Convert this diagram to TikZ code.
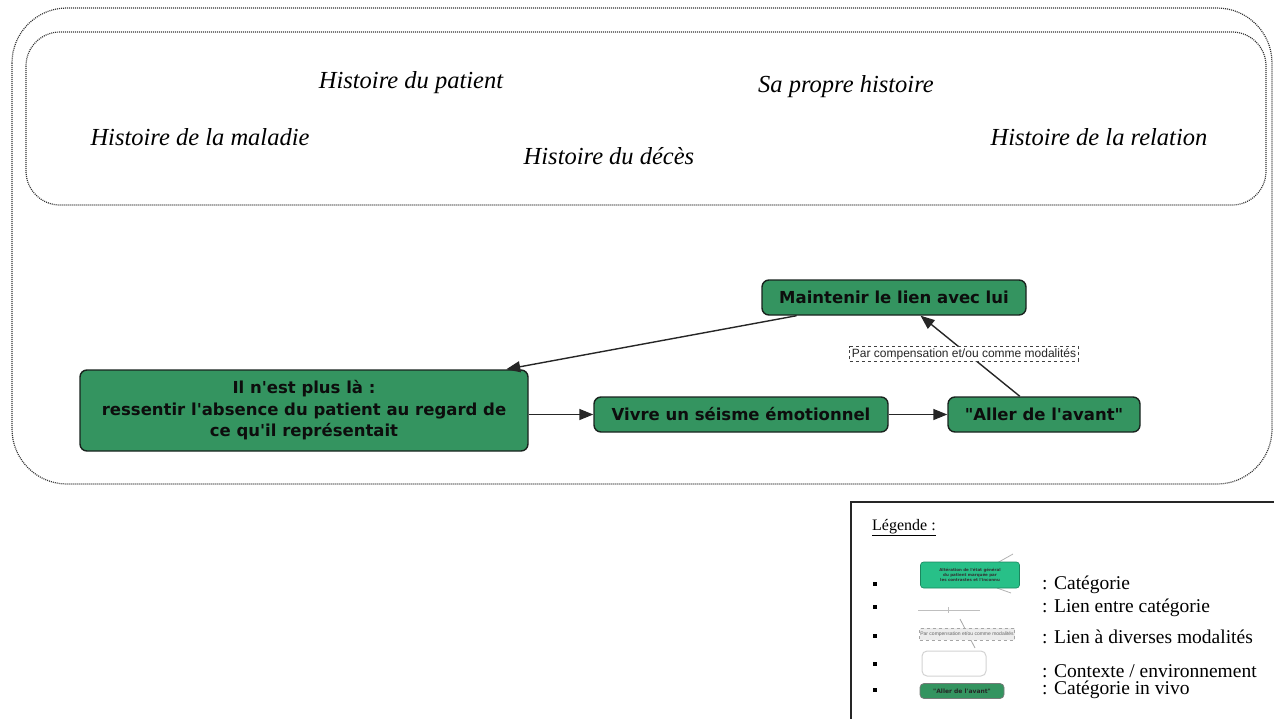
\documentclass[tikz,border=0pt]{standalone}
\usepackage{fontspec}
\setmainfont{Liberation Serif}
\newfontfamily\boldsans[Ligatures=TeXOff]{DejaVu Sans}
\newfontfamily\labsans[Ligatures=TeXOff]{Liberation Sans}
\usetikzlibrary{arrows.meta,calc}
\definecolor{catgreen}{RGB}{52,148,96}
\definecolor{mintgreen}{RGB}{40,192,136}
\definecolor{edgedark}{RGB}{25,35,30}
\begin{document}
\begin{tikzpicture}[x=1pt,y=-1pt,
  ctx/.style={draw=black!80, line width=1.2pt, dash pattern=on 1pt off 1pt},
  hist/.style={font=\fontsize{24.5}{28}\selectfont\itshape, inner sep=0pt},
  cat/.style={draw=edgedark, line width=1.4pt, fill=catgreen, rounded corners=7pt,
    font=\boldsans\bfseries\fontsize{16.5}{21.5}\selectfont, text=black!95,
    align=center, inner sep=0pt},
  conn/.style={draw=black!85, line width=1.4pt, -{Triangle[length=14pt,width=11pt]}},
  modal/.style={draw=black!75, dashed, line width=1pt, fill=white,
    font=\labsans\fontsize{12}{14}\selectfont, text=black!85, inner xsep=2pt, inner ysep=1.5pt},
  legtext/.style={font=\fontsize{19.5}{22}\selectfont, anchor=west, inner sep=0pt},
  bulletsq/.style={fill=black, minimum size=4pt, inner sep=0pt}
]
\useasboundingbox (0,0) rectangle (1274,718);

% context boxes
\draw[ctx, rounded corners=55pt] (12,8) rectangle (1272,484);
\draw[ctx, rounded corners=34pt] (26,32) rectangle (1266,205);

% history labels
\node[hist] (hp) at (411,83) {Histoire du patient};
\node[hist] (sp) at (846,87) {Sa propre histoire};
\node[hist] (hm) at (200,137) {Histoire de la maladie};
\node[hist] (hd) at (609,156) {Histoire du décès};
\node[hist] (hr) at (1099,137) {Histoire de la relation};

% categories
\node[cat, minimum width=448pt, minimum height=81pt] (b1) at (304,410.5)
  {Il n'est plus là :\\ressentir l'absence du patient au regard de\\ce qu'il représentait};
\node[cat, minimum width=294pt, minimum height=35pt] (b2) at (741,414.5) {Vivre un séisme émotionnel};
\node[cat, minimum width=192pt, minimum height=35pt] (b3) at (1044,414.5) {"Aller de l'avant"};
\node[cat, minimum width=264pt, minimum height=35pt] (b4) at (894,297.5) {Maintenir le lien avec lui};

% connectors
\draw[conn] (b1.east |- b2.west) -- (b2.west);
\draw[conn] (b2.east) -- (b3.west);
\coordinate (b4sw) at ($(b4.south west)!0.133!(b4.south east)$);
\coordinate (b1ne) at ($(b1.north west)!0.95!(b1.north east)$);
\draw[conn] (b4sw) -- (b1ne);
\coordinate (b3n) at ($(b3.north west)!0.375!(b3.north east)$);
\coordinate (b4s) at ($(b4.south west)!0.6!(b4.south east)$);
\draw[conn] (b3n) -- (b4s);
\node[modal] (lab) at (964,354) {Par compensation et/ou comme modalités};

% legend
\draw[line width=1.5pt, draw=black!85] (851,740) -- (851,502) -- (1290,502);
\node[font=\fontsize{16}{19}\selectfont, anchor=west, inner sep=0pt] (lt) at (872,528) {\underline{Légende :}};

\node[bulletsq] (q1) at (875,584) {};
\node[bulletsq] (q2) at (875,607) {};
\node[bulletsq] (q3) at (875,636) {};
\node[bulletsq] (q4) at (875,664) {};
\node[bulletsq] (q5) at (875,690) {};

% legend icons
\draw[gray!60, line width=0.8pt] (1013,554) -- (997,563);
\draw[gray!60, line width=0.8pt] (997,588) -- (1011,593);
\node[draw=mintgreen!70!black, line width=0.6pt, fill=mintgreen, rounded corners=3pt,
  minimum width=99pt, minimum height=26pt, inner sep=0pt, align=center,
  font=\boldsans\bfseries\fontsize{4}{5}\selectfont, text=black!80] (i1) at (970,575)
  {Altération de l'état général\\du patient marquée par\\les contrastes et l'inconnu};

\coordinate (i2a) at (918,610);
\coordinate (i2b) at (980,610);
\draw[gray!50, line width=0.8pt] (i2a) -- (i2b);
\draw[gray!50, line width=0.8pt] (948,607) -- (948,613);

\draw[gray!70, line width=0.8pt] (960,619) -- (975,648);
\node[draw=gray!70, dashed, line width=0.6pt, fill=gray!15, minimum width=95pt, minimum height=12pt,
  inner sep=0pt, font=\labsans\fontsize{5}{6}\selectfont, text=black!60] (i3) at (967,634)
  {Par compensation et/ou comme modalités};

\node[draw=gray!35, line width=1pt, rounded corners=5pt, minimum width=64pt, minimum height=25pt,
  inner sep=0pt] (i4) at (954,663.5) {};

\node[draw=edgedark!60, line width=0.8pt, fill=catgreen, rounded corners=4pt, minimum width=84pt,
  minimum height=15pt, inner sep=0pt, font=\boldsans\bfseries\fontsize{6}{7}\selectfont,
  text=black!85] (i5) at (962,691) {"Aller de l'avant"};

\node[legtext] (l1) at (1042,585) {: Catégorie};
\node[legtext] (l2) at (1042,608) {: Lien entre catégorie};
\node[legtext] (l3) at (1042,637) {: Lien à diverses modalités};
\node[legtext] (l4) at (1042,671) {: Contexte / environnement};
\node[legtext] (l5) at (1042,690) {: Catégorie in vivo};
\end{tikzpicture}
\end{document}
